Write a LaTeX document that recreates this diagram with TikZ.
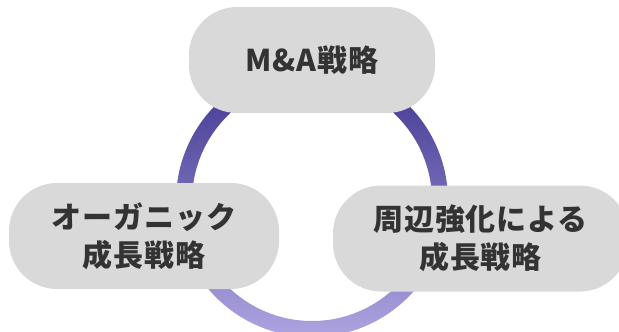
\documentclass[tikz,border=0pt]{standalone}
\usepackage{fontspec}
\setmainfont{Noto Sans CJK JP}[LetterSpace=3]
\usetikzlibrary{positioning,calc}
\definecolor{ringTop}{HTML}{3E348F}
\definecolor{ringBottom}{HTML}{ADA4E0}
\definecolor{boxFill}{HTML}{D9D9D9}
\definecolor{boxText}{HTML}{333333}

\begin{document}
\begin{tikzpicture}[x=1pt,y=-1pt,
    stratbox/.style={fill=boxFill,rounded corners=48pt,minimum height=106pt,inner sep=0pt,
      text=boxText,align=center,font=\fontsize{30}{38}\selectfont\bfseries}]

      \useasboundingbox (0,0) rectangle (619,332);

      \def\rIn{120pt}
      \def\rOut{136pt}

      % draw the ring
      \coordinate (hub) at (312,201);
      \shade[top color=ringTop,bottom color=ringBottom,even odd rule]
        (hub) circle [radius=\rOut] (hub) circle [radius=\rIn];

      % draw the three strategies
      \node[stratbox,minimum width=246pt] (ma) at (312,60) {M\&A戦略};
      \node[stratbox,minimum width=270pt] (organic) at (144,236) {オーガニック\\成長戦略};
      \node[stratbox,minimum width=295pt] (periph) at (480.5,238.5) {周辺強化による\\成長戦略};

\end{tikzpicture}
\end{document}
